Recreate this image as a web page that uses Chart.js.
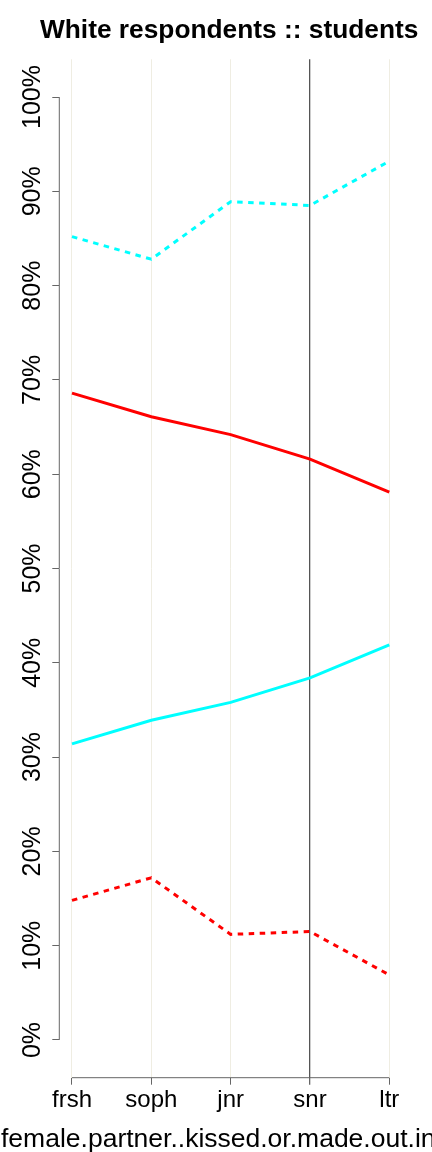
<!DOCTYPE html>
<html>
<head>
<meta charset="utf-8">
<script src="https://cdn.jsdelivr.net/npm/chart.js@4/dist/chart.umd.min.js"></script>
<style>
  html, body { margin: 0; padding: 0; background: #fff; }
  #wrap { width: 432px; height: 1152px; position: relative; }
</style>
</head>
<body>
<div id="wrap"><canvas id="chart"></canvas></div>
<script>
// --- data ---
const CATEGORIES = ['frsh', 'soph', 'jnr', 'snr', 'ltr'];
const Y_TICKS = [0, 10, 20, 30, 40, 50, 60, 70, 80, 90, 100];
const CYAN_DASHED = [85.2, 82.8, 88.9, 88.5, 93.2];
const RED_SOLID = [68.6, 66.1, 64.2, 61.6, 58.1];
const CYAN_SOLID = [31.4, 33.9, 35.8, 38.4, 41.9];
const RED_DASHED = [14.8, 17.2, 11.2, 11.5, 6.9];
const TITLE = 'White respondents :: students';
const X_LABEL = 'female.partner..kissed.or.made.out.in';

const FONT = '"Liberation Sans", Arial, Helvetica, sans-serif';
const AXIS_COLOR = '#666';

function pts(arr) {
    return arr.map((v, i) => ({ x: i, y: v }));
}

// R-style bits: title, axis lines spanning only the ticks, rotated y labels, x label
const axesPlugin = {
    id: 'rAxes',
    afterDraw(chart) {
        const { ctx, chartArea, scales } = chart;
        const x = scales.x, y = scales.y;
        ctx.save();
        ctx.strokeStyle = AXIS_COLOR;
        ctx.lineWidth = 1;
        ctx.beginPath();
        ctx.moveTo(chartArea.left, y.getPixelForValue(Y_TICKS[0]));
        ctx.lineTo(chartArea.left, y.getPixelForValue(Y_TICKS[Y_TICKS.length - 1]));
        ctx.moveTo(x.getPixelForValue(0), chartArea.bottom);
        ctx.lineTo(x.getPixelForValue(CATEGORIES.length - 1), chartArea.bottom);
        ctx.stroke();

        ctx.fillStyle = '#000';
        ctx.font = 'bold 26.3px ' + FONT;
        ctx.textAlign = 'center';
        ctx.textBaseline = 'alphabetic';
        ctx.fillText(TITLE, (chartArea.left + chartArea.right) / 2 - 1.5, 38);

        ctx.font = '25px ' + FONT;
        ctx.textBaseline = 'middle';
        Y_TICKS.forEach(v => {
            ctx.save();
            ctx.translate(32, y.getPixelForValue(v));
            ctx.rotate(-Math.PI / 2);
            ctx.fillText(v + '%', 0, 1);
            ctx.restore();
        });

        ctx.font = '26.5px ' + FONT;
        ctx.textAlign = 'left';
        ctx.textBaseline = 'alphabetic';
        ctx.fillText(X_LABEL, 1, 1147);
        ctx.restore();
    }
};

const ctx = document.getElementById('chart').getContext('2d');
new Chart(ctx, {
    type: 'line',
    data: {
        datasets: [
            { data: pts(CYAN_DASHED), borderColor: '#00ffff', borderDash: [5.5, 5.5] },
            { data: pts(RED_SOLID), borderColor: '#ff0000' },
            { data: pts(CYAN_SOLID), borderColor: '#00ffff' },
            { data: pts(RED_DASHED), borderColor: '#ff0000', borderDash: [5.5, 5.5] }
        ]
    },
    options: {
        responsive: true,
        maintainAspectRatio: false,
        animation: false,
        layout: { padding: { left: 0, right: 30, top: 59.3, bottom: 0 } },
        elements: {
            line: { borderWidth: 3, tension: 0, fill: false },
            point: { radius: 0, hoverRadius: 0 }
        },
        plugins: {
            legend: { display: false },
            tooltip: { enabled: false },
            title: { display: false }
        },
        scales: {
            x: {
                type: 'linear',
                min: -0.16,
                max: CATEGORIES.length - 1 + 0.16,
                afterBuildTicks: s => { s.ticks = CATEGORIES.map((c, i) => ({ value: i })); },
                afterFit: s => { s.height = 74.3; },
                border: { display: false },
                grid: {
                    drawOnChartArea: true,
                    drawTicks: true,
                    tickLength: 7,
                    tickColor: AXIS_COLOR,
                    color: c => (c.tick && c.tick.value === 3) ? '#555' : '#efede2',
                    lineWidth: c => (c.tick && c.tick.value === 3) ? 1.3 : 1
                },
                ticks: {
                    color: '#000',
                    padding: 1,
                    maxRotation: 0,
                    font: { family: FONT, size: 24 },
                    callback: v => CATEGORIES[v]
                }
            },
            y: {
                type: 'linear',
                min: -4,
                max: 104,
                afterBuildTicks: s => { s.ticks = Y_TICKS.map(v => ({ value: v })); },
                afterFit: s => { s.width = 59.3; },
                border: { display: false },
                grid: {
                    drawOnChartArea: false,
                    drawTicks: true,
                    tickLength: 7,
                    tickColor: AXIS_COLOR
                },
                ticks: { display: false }
            }
        }
    },
    plugins: [axesPlugin]
});
</script>
</body>
</html>
